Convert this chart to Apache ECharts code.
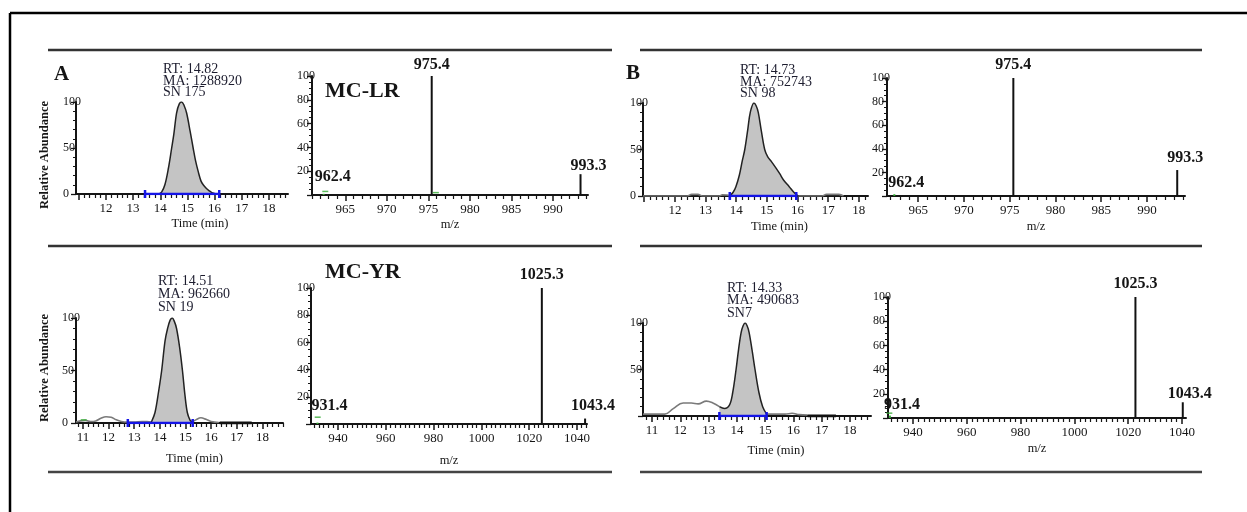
<!DOCTYPE html>
<html><head><meta charset="utf-8">
<script src="https://cdn.jsdelivr.net/npm/echarts@6/dist/echarts.min.js"></script>
<style>html,body{margin:0;padding:0;background:#fff}#c{width:1247px;height:512px}</style>
</head><body><div id="c"></div>
<script>
const FONT = '"Liberation Serif", "DejaVu Serif", serif';

// ---------- tick labels ----------
const chromTicks = [11, 12, 13, 14, 15, 16, 17, 18];
const chromLabelsTop = [12, 13, 14, 15, 16, 17, 18];
const chromLabelsBottom = [11, 12, 13, 14, 15, 16, 17, 18];
const msTicksLR = [965, 970, 975, 980, 985, 990];
const msTicksYR = [940, 960, 980, 1000, 1020, 1040];

// ---------- A: MC-LR chromatogram ----------
const lrA_peakT = [13.95, 14.05, 14.17, 14.3, 14.42, 14.5, 14.6, 14.7, 14.79, 14.88, 14.97, 15.1, 15.21, 15.3, 15.4, 15.5, 15.58, 15.7, 15.8, 15.9, 16.0, 16.05];
const lrA_peakI = [0, 2, 10, 28, 50, 65, 88, 98, 100, 96, 88, 68, 50, 36, 24, 14, 10, 6, 3.5, 1.5, 0.5, 0];
const lrA_baseT = [13.44, 16.17];

// ---------- A: MC-LR spectrum ----------
const lrA_mz = [962.4, 975.4, 993.3];
const lrA_ab = [1, 100, 17.5];
const lrA_lab = ['962.4', '975.4', '993.3'];
const lrA_greenMz = [962.6, 975.9];
const lrA_greenAb = [3, 2];

// ---------- B: MC-LR chromatogram ----------
const lrB_peakT = [13.79, 13.9, 13.99, 14.1, 14.2, 14.28, 14.38, 14.46, 14.58, 14.65, 14.72, 14.82, 14.93, 15.03, 15.15, 15.3, 15.42, 15.55, 15.73, 15.88, 16.02];
const lrB_peakI = [0, 4, 10, 22, 38, 50, 72, 90, 100, 97, 90, 70, 50, 42, 37, 30, 24, 17, 10, 4, 0];
const lrB_baseT = [13.79, 15.96];
const lrB_preT = [10.96, 12.4, 12.55, 12.75, 12.9, 13.45, 13.55, 13.7, 13.79];
const lrB_preI = [0, 0, 1.8, 1.8, 0, 0, 1.2, 1, 0];
const lrB_postT = [16.02, 16.8, 16.95, 17.35, 17.5];
const lrB_postI = [0, 0, 1.8, 1.8, 0];

// ---------- B: MC-LR spectrum ----------
const lrB_mz = [962.4, 975.4, 993.3];
const lrB_ab = [1.5, 100, 22];
const lrB_lab = ['962.4', '975.4', '993.3'];

// ---------- A: MC-YR chromatogram ----------
const yrA_peakT = [13.67, 13.81, 13.95, 14.07, 14.2, 14.3, 14.4, 14.48, 14.56, 14.65, 14.77, 14.88, 14.98, 15.07, 15.17, 15.25];
const yrA_peakI = [1, 10, 30, 50, 78, 90, 98, 100, 97, 90, 72, 50, 26, 10, 3, 1];
const yrA_preT = [10.73, 10.9, 11.1, 11.3, 11.5, 11.7, 11.9, 12.1, 12.3, 12.5, 12.75, 13.0, 13.3, 13.5, 13.67];
const yrA_preI = [1, 2, 2.5, 1.5, 2, 4.5, 6, 5.5, 3, 1.5, 1, 1, 1.5, 1.5, 1];
const yrA_postT = [15.25, 15.4, 15.6, 15.8, 16.0, 16.3];
const yrA_postI = [1, 3, 5, 3.5, 1.5, 0.5];
const yrA_flatT = [16.33, 17.58];
const yrA_baseT = [12.75, 15.28];
const yrA_greenT = [11.03];
const yrA_greenI = [3];

// ---------- A: MC-YR spectrum ----------
const yrA_mz = [931.4, 1025.3, 1043.4];
const yrA_ab = [1, 100, 4];
const yrA_lab = ['931.4', '1025.3', '1043.4'];
const yrA_greenMz = [931.5];
const yrA_greenAb = [5];

// ---------- B: MC-YR chromatogram ----------
const yrB_preT = [10.68, 11.0, 11.45, 11.75, 12.1, 12.39, 12.63, 12.92, 13.15, 13.38];
const yrB_preI = [2, 2, 2, 8, 14, 14, 13, 16, 14, 10];
const yrB_peakT = [13.38, 13.56, 13.74, 13.85, 13.97, 14.06, 14.15, 14.22, 14.29, 14.36, 14.43, 14.54, 14.64, 14.78, 14.91, 15.05];
const yrB_peakI = [10, 8, 12, 25, 50, 72, 90, 97, 100, 97, 90, 70, 50, 25, 10, 2];
const yrB_postT = [15.05, 15.4, 15.7, 15.95, 16.2, 16.5];
const yrB_postI = [2, 2, 2, 3, 1.5, 1];
const yrB_flatT = [16.5, 17.5];
const yrB_baseT = [13.38, 15.05];

// ---------- B: MC-YR spectrum ----------
const yrB_mz = [931.4, 1022.7, 1040.3];
const yrB_ab = [2, 100, 13];
const yrB_lab = ['931.4', '1025.3', '1043.4'];
const yrB_greenMz = [931.2];
const yrB_greenAb = [4];

// ================= build =================
const zip = (a, b) => a.map((v, i) => [v, b[i]]);
function minorTicks(min, max, step, majors) {
  const out = [];
  const s = Math.ceil(min / step - 1e-9), e = Math.floor(max / step + 1e-9);
  for (let k = s; k <= e; k++) {
    const v = +(k * step).toFixed(4);
    if (!majors.some(m => Math.abs(m - v) < 1e-6)) out.push(v);
  }
  return out;
}
const grids = [], xAxes = [], yAxes = [], series = [];
const INK = '#151515';

function addAxes(p) {
  const gi = grids.length;
  grids.push({ left: p.rect[0], top: p.rect[1], width: p.rect[2], height: p.rect[3], containLabel: false });
  const xi = xAxes.length;
  xAxes.push({
    type: 'value', gridIndex: gi, position: 'bottom', min: p.xMin, max: p.xMax,
    axisLine: { show: true, onZero: false, lineStyle: { color: INK, width: 2 } },
    axisTick: { show: true, customValues: p.majors, length: 6, lineStyle: { color: INK, width: 1.5 } },
    axisLabel: { show: true, customValues: p.axisLabels, margin: 8, fontFamily: FONT, fontSize: 13, color: INK,
      formatter: v => String(v) },
    splitLine: { show: false },
    name: p.xName, nameLocation: 'middle', nameGap: p.nameGap,
    nameTextStyle: { fontFamily: FONT, fontSize: 12.5, color: INK, padding: [0, 0, 0, p.namePad || 0] }
  });
  xAxes.push({
    type: 'value', gridIndex: gi, position: 'bottom', min: p.xMin, max: p.xMax,
    axisLine: { show: false, onZero: false },
    axisTick: { show: true, customValues: minorTicks(p.xMin, p.xMax, p.minorStep, p.majors), length: 4, lineStyle: { color: INK, width: 1.2 } },
    axisLabel: { show: false }, splitLine: { show: false }
  });
  const yi = yAxes.length;
  yAxes.push({
    type: 'value', gridIndex: gi, min: 0, max: 100, interval: p.yInterval,
    axisLine: { show: true, lineStyle: { color: INK, width: 2 } },
    axisTick: { show: true, length: 5, lineStyle: { color: INK, width: 1.3 } },
    minorTick: { show: true, splitNumber: p.yMinor, length: 3, lineStyle: { color: INK, width: 1 } },
    axisLabel: { margin: p.yMargin, align: 'left', fontFamily: FONT, fontSize: 12, color: INK,
      formatter: v => (p.yHide.indexOf(v) >= 0 ? '' : String(v)) },
    splitLine: { show: false }
  });
  return { xi, yi };
}

function addChrom(p) {
  const { xi, yi } = addAxes(Object.assign({ xName: 'Time (min)', minorStep: 0.2, yInterval: 50, yMinor: 5 }, p));
  const base = { xAxisIndex: xi, yAxisIndex: yi, type: 'line', symbol: 'none', silent: true, animation: false };
  (p.traces || []).forEach(tr => series.push(Object.assign({}, base, {
    data: zip(tr[0], tr[1]), smooth: 0.4, lineStyle: { color: '#7a7a7a', width: 1.6 }, z: 2
  })));
  (p.flats || []).forEach(f => series.push(Object.assign({}, base, {
    data: zip(f, f.map(() => 0)), lineStyle: { color: '#111', width: 3 }, z: 2
  })));
  series.push(Object.assign({}, base, {
    data: zip(p.peakT, p.peakI), smooth: 0.35,
    lineStyle: { color: '#222', width: 1.5 }, areaStyle: { color: '#c4c4c4', opacity: 1 }, z: 3
  }));
  series.push(Object.assign({}, base, {
    data: zip(p.baseT, [0, 0]), symbol: 'rect', symbolSize: [2.5, 8], showSymbol: true,
    itemStyle: { color: '#1414e6' }, lineStyle: { color: '#1414e6', width: 2.5 }, z: 4
  }));
  if (p.green) series.push({ type: 'scatter', xAxisIndex: xi, yAxisIndex: yi, data: zip(p.green[0], p.green[1]),
    symbol: 'rect', symbolSize: [6, 1.5], itemStyle: { color: '#33aa33' }, silent: true, z: 5 });
}

function addMS(p) {
  const { xi, yi } = addAxes(Object.assign({ xName: 'm/z', yInterval: 20, yMinor: 4, yHide: [0] }, p));
  series.push({
    type: 'bar', xAxisIndex: xi, yAxisIndex: yi, barWidth: 2, animation: false, silent: true,
    data: p.mz.map((m, i) => ({ value: [m, p.ab[i]],
      itemStyle: { color: p.ab[i] < 3 ? '#33aa33' : '#111' },
      label: { offset: p.offsets[i] } })),
    label: { show: true, position: 'top', distance: 5, formatter: d => p.peakLabels[d.dataIndex],
      fontFamily: FONT, fontWeight: 'bold', fontSize: 16, color: INK },
    z: 3
  });
  if (p.green) series.push({ type: 'scatter', xAxisIndex: xi, yAxisIndex: yi, data: zip(p.green[0], p.green[1]),
    symbol: 'rect', symbolSize: [6, 1.5], itemStyle: { color: '#33aa33' }, silent: true, z: 5 });
}

// Panel A top
addChrom({ rect: [76, 102, 212, 92], xMin: 10.9, xMax: 18.7, majors: chromTicks, axisLabels: chromLabelsTop,
  yHide: [], yMargin: 13, nameGap: 23, namePad: 36, peakT: lrA_peakT, peakI: lrA_peakI, baseT: lrA_baseT });
addMS({ rect: [312, 76, 276, 119], xMin: 961.0, xMax: 994.2, majors: msTicksLR, axisLabels: msTicksLR, minorStep: 1,
  yMargin: 15, nameGap: 23, mz: lrA_mz, ab: lrA_ab, peakLabels: lrA_lab, offsets: [[9, -4], [0, 2], [8, 5]],
  green: [lrA_greenMz, lrA_greenAb] });
// Panel B top
addChrom({ rect: [643, 103, 225, 93], xMin: 10.96, xMax: 18.3, majors: chromTicks, axisLabels: chromLabelsTop,
  yHide: [], yMargin: 13, nameGap: 24, namePad: 48, peakT: lrB_peakT, peakI: lrB_peakI, baseT: lrB_baseT,
  traces: [[lrB_preT, lrB_preI], [lrB_postT, lrB_postI]] });
addMS({ rect: [887, 78, 298, 118], xMin: 961.6, xMax: 994.15, majors: msTicksLR, axisLabels: msTicksLR, minorStep: 1,
  yMargin: 15, nameGap: 24, mz: lrB_mz, ab: lrB_ab, peakLabels: lrB_lab, offsets: [[12, 2], [0, 0], [8, 1]] });
// Panel A bottom
addChrom({ rect: [76, 318, 207, 105], xMin: 10.73, xMax: 18.8, majors: chromTicks, axisLabels: chromLabelsBottom,
  yHide: [], yMargin: 14, nameGap: 29, namePad: 30, peakT: yrA_peakT, peakI: yrA_peakI, baseT: yrA_baseT,
  traces: [[yrA_preT, yrA_preI], [yrA_postT, yrA_postI]], flats: [yrA_flatT], green: [yrA_greenT, yrA_greenI] });
addMS({ rect: [311, 288, 276, 136], xMin: 928.7, xMax: 1044.2, majors: msTicksYR, axisLabels: msTicksYR, minorStep: 2,
  yMargin: 14, nameGap: 30, mz: yrA_mz, ab: yrA_ab, peakLabels: yrA_lab, offsets: [[12, -4], [0, 0], [8, 0]],
  green: [yrA_greenMz, yrA_greenAb] });
// Panel B bottom
addChrom({ rect: [643, 323, 228, 93], xMin: 10.68, xMax: 18.74, majors: chromTicks, axisLabels: chromLabelsBottom,
  yHide: [0], yMargin: 13, nameGap: 28, namePad: 38, peakT: yrB_peakT, peakI: yrB_peakI, baseT: yrB_baseT,
  traces: [[yrB_preT, yrB_preI], [yrB_postT, yrB_postI]], flats: [yrB_flatT] });
addMS({ rect: [888, 297, 298, 121], xMin: 930.7, xMax: 1041.5, majors: msTicksYR, axisLabels: msTicksYR, minorStep: 2,
  yMargin: 15, nameGap: 24, mz: yrB_mz, ab: yrB_ab, peakLabels: yrB_lab, offsets: [[12, 2], [0, 0], [7, 5]],
  green: [yrB_greenMz, yrB_greenAb] });

// ---------- decorations ----------
const hline = (x1, x2, y, w, c) => ({ type: 'line', shape: { x1, y1: y, x2, y2: y }, style: { stroke: c, lineWidth: w }, silent: true });
const txt = (x, y, text, size, weight, extra) => Object.assign({ type: 'text', x, y, silent: true,
  style: Object.assign({ text, fontFamily: FONT, fontSize: size, fontWeight: weight, fill: INK }, extra || {}) });
const graphics = [
  { type: 'line', shape: { x1: 10, y1: 13, x2: 1247, y2: 13 }, style: { stroke: '#000', lineWidth: 2.5 }, silent: true },
  { type: 'line', shape: { x1: 10, y1: 13, x2: 10, y2: 512 }, style: { stroke: '#000', lineWidth: 2.5 }, silent: true },
  hline(48, 612, 50, 2.5, '#333'), hline(640, 1202, 50, 2.5, '#333'),
  hline(48, 612, 246, 2.5, '#333'), hline(640, 1202, 246, 2.5, '#333'),
  hline(48, 612, 472, 2.5, '#444'), hline(640, 1202, 472, 2.5, '#444'),
  txt(54, 64, 'A', 21, 'bold'),
  txt(626, 63, 'B', 21, 'bold'),
  txt(325, 80, 'MC-LR', 22, 'bold'),
  txt(325, 261, 'MC-YR', 22, 'bold'),
  txt(163, 64, 'RT: 14.82\nMA: 1288920\nSN 175', 14, 'normal', { lineHeight: 11.5, fill: '#1c1c2e' }),
  txt(740, 65, 'RT: 14.73\nMA: 752743\nSN 98', 14, 'normal', { lineHeight: 11.5, fill: '#1c1c2e' }),
  txt(158, 275, 'RT: 14.51\nMA: 962660\nSN 19', 14, 'normal', { lineHeight: 13, fill: '#1c1c2e' }),
  txt(727, 282, 'RT: 14.33\nMA: 490683\nSN7', 14, 'normal', { lineHeight: 12.5, fill: '#1c1c2e' }),
  Object.assign(txt(45, 155, 'Relative Abundance', 12.5, 'bold', { align: 'center', verticalAlign: 'middle' }), { rotation: Math.PI / 2 }),
  Object.assign(txt(45, 368, 'Relative Abundance', 12.5, 'bold', { align: 'center', verticalAlign: 'middle' }), { rotation: Math.PI / 2 })
];

const chart = echarts.init(document.getElementById('c'), null, { renderer: 'canvas' });
chart.setOption({
  backgroundColor: '#fff', animation: false,
  grid: grids, xAxis: xAxes, yAxis: yAxes, series, graphic: { elements: graphics }
});
</script></body></html>
